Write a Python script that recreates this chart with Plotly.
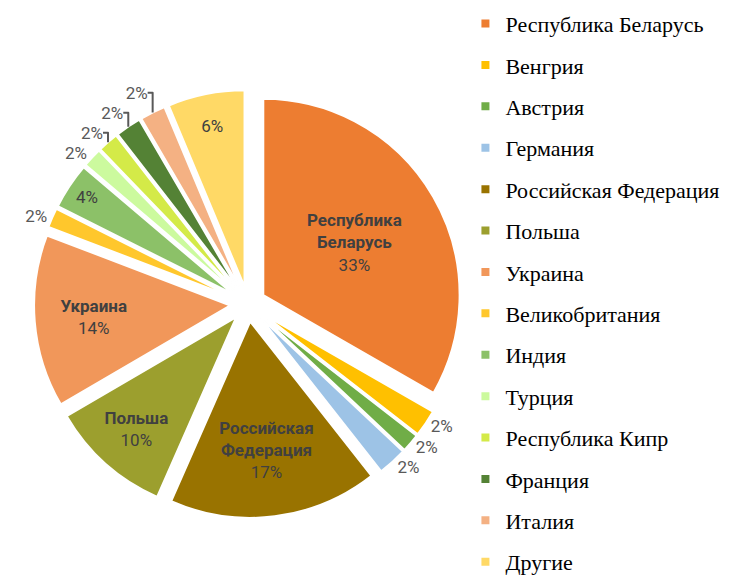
import plotly.graph_objects as go

countries = ["Республика Беларусь", "Венгрия", "Австрия", "Германия",
             "Российская Федерация", "Польша", "Украина", "Великобритания",
             "Индия", "Турция", "Республика Кипр", "Франция", "Италия", "Другие"]
values = [33.3, 2.2, 1.5, 2.4, 17.2, 10.0, 14.2, 1.6, 3.8, 1.6, 1.7, 2.1, 2.1, 6.3]
inside_names = ["Республика<br>Беларусь", "", "", "", "Российская<br>Федерация",
                "Польша", "Украина", "", "", "", "", "", "", ""]
colors = ["#ED7D31", "#FFC000", "#70AD47", "#9DC3E6", "#997300", "#9C9F2E",
          "#F1975A", "#FFC72C", "#8CC168", "#CCFA9E", "#D4EA48", "#548235",
          "#F4B183", "#FFD966"]

templates = []
positions = []
for name, v in zip(inside_names, values):
    if name:
        templates.append("<b>%{customdata}</b><br>%{percent:.0%}")
        positions.append("inside")
    elif v >= 3:
        templates.append("%{percent:.0%}")
        positions.append("inside")
    else:
        templates.append("%{percent:.0%}")
        positions.append("outside")

fig = go.Figure()
fig.add_trace(go.Pie(
    labels=countries, values=values, customdata=inside_names,
    sort=False, direction="clockwise", rotation=0,
    pull=[0.09] * len(values),
    marker=dict(colors=colors, line=dict(color="white", width=2)),
    texttemplate=templates, textposition=positions,
    insidetextorientation="horizontal",
    textfont=dict(family="Roboto", size=17, color="#404040"),
    outsidetextfont=dict(family="Roboto", size=17, color="#595959"),
    domain=dict(x=[0.0349, 0.6094], y=[0.1282, 0.8598]),
    showlegend=False, hoverinfo="label+percent",
))

for name, c in zip(countries, colors):
    fig.add_trace(go.Scatter(
        x=[None], y=[None], mode="markers", name=name, legendgroup=name,
        marker=dict(symbol="square", size=8, color=c), hoverinfo="skip",
    ))

legend = dict(
    x=0.614, y=1.009, xanchor="left", yanchor="top",
    font=dict(family="Liberation Serif", size=22, color="#000000"),
    traceorder="grouped", tracegroupgap=9.8, itemwidth=30,
    bgcolor="rgba(0,0,0,0)",
)

fig.update_layout(
    width=745, height=585,
    margin=dict(l=0, r=0, t=0, b=0, autoexpand=False),
    paper_bgcolor="white", plot_bgcolor="white",
    xaxis=dict(visible=False), yaxis=dict(visible=False),
    uniformtext=dict(minsize=17, mode="show"),
    legend=legend,
)
try:
    fig.update_layout(legend_maxheight=1000)
except Exception:
    fig.update_layout(legend=dict(font_size=20, tracegroupgap=12.5))

fig.write_html("out.html")
